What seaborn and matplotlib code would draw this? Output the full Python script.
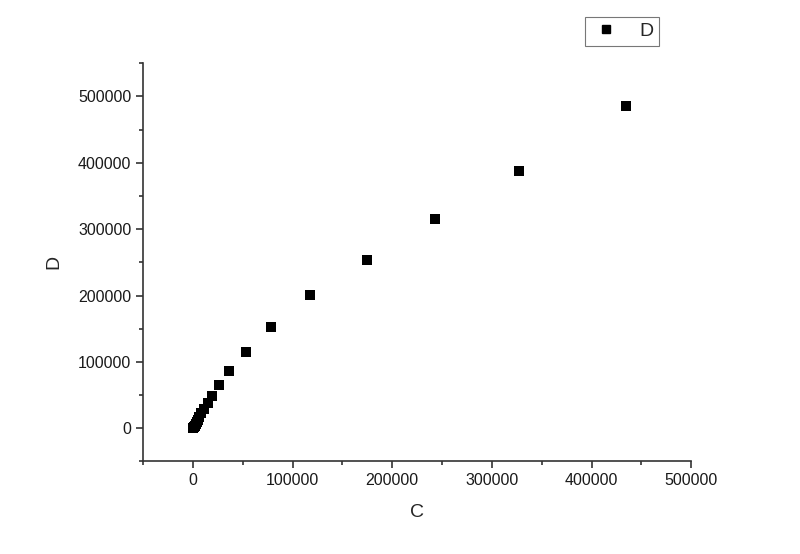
import matplotlib
matplotlib.use("Agg")
import matplotlib.pyplot as plt
import seaborn as sns
import pandas as pd
from matplotlib.ticker import MultipleLocator

C = [0, 300, 800, 1500, 2500, 3500, 5000, 6500, 8500, 11000, 14800, 18600,
     25600, 36600, 52700, 78700, 117900, 175000, 243200, 327500, 434800]
D = [0, 800, 2000, 4000, 6500, 9500, 13000, 17500, 23000, 29000, 37700, 48200,
     64800, 85800, 114500, 152100, 200300, 253000, 314800, 387000, 485000]

df = pd.DataFrame({"C": C, "D": D})

sns.set_style("white")
plt.rcParams['font.family'] = ['Liberation Sans', 'DejaVu Sans']

fig = plt.figure(figsize=(8, 5.54), dpi=100)
ax = fig.add_axes([0.179, 0.167, 0.685, 0.719])

sns.scatterplot(data=df, x="C", y="D", marker="s", s=44, color="black",
                edgecolor="black", linewidth=0, ax=ax, label="D", legend=False)

ax.set_xlim(-50000, 500000)
ax.set_ylim(-50000, 550000)
ax.xaxis.set_major_locator(MultipleLocator(100000))
ax.xaxis.set_minor_locator(MultipleLocator(50000))
ax.yaxis.set_major_locator(MultipleLocator(100000))
ax.yaxis.set_minor_locator(MultipleLocator(50000))
ax.set_yticks([0, 100000, 200000, 300000, 400000, 500000])

for s in ["top", "right"]:
    ax.spines[s].set_visible(False)
for s in ["left", "bottom"]:
    ax.spines[s].set_color("#333333")
    ax.spines[s].set_linewidth(1.2)

ax.tick_params(which="major", direction="out", length=5, width=1.2, color="#333333",
               labelsize=11.5, labelcolor="#1a1a1a", bottom=True, left=True)
ax.tick_params(which="minor", direction="out", length=3, width=1.2, color="#333333",
               bottom=True, left=True)

ax.set_xlabel("C", fontsize=14, labelpad=11)
ax.set_ylabel("D", fontsize=14, labelpad=11)

handle = plt.Line2D([], [], marker="s", color="black", linestyle="none", markersize=6)
leg = fig.legend([handle], ["D"], loc="upper left", bbox_to_anchor=(0.731, 0.97),
                 frameon=True, fancybox=False, fontsize=14, handlelength=1.6,
                 borderpad=0.3, handletextpad=0.9, borderaxespad=0)
leg.get_frame().set_edgecolor("#555555")
leg.get_frame().set_linewidth(0.8)

fig.savefig("out.png", dpi=100)
